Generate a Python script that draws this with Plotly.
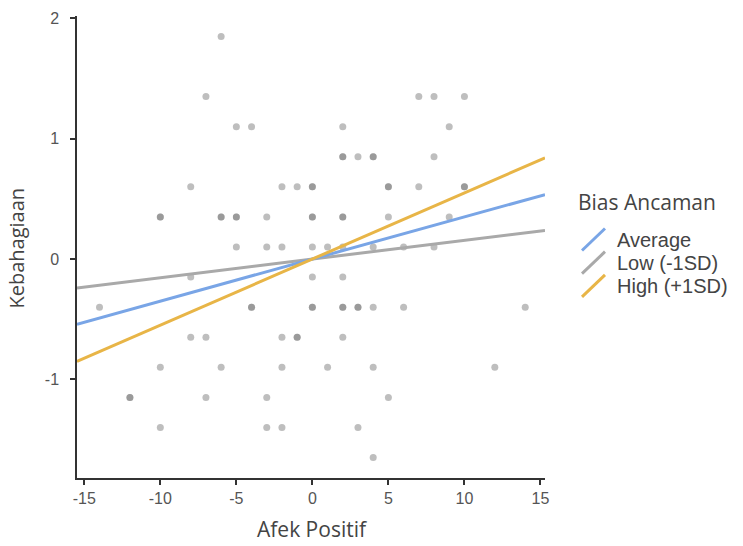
import plotly.graph_objects as go

# Scatter data (repeated points appear darker because they overlap)
afek_positif = [-6, -7, -5, -4, -8, -2, -1, 0,
                -10, -10, -6, -6, -5, -5, -3, 0,
                -5, -3, -2, 0,
                7, 8, 10, 2, 9,
                2, 2, 3, 4, 4, 8,
                0, 5, 5, 7, 10, 10,
                0, 2, 2, 5, 9,
                1, 2, 4, 6, 8,
                -8, 0, 2,
                -14, -4, -4, 0, 0, 2, 2, 3, 3, 4, 6, 14,
                -8, -7, -2, -1, -1, 2,
                -10, -6, -2, 1, 4, 12,
                -12, -12, -7, -3, 5,
                -10, -3, -2, 3,
                4]
kebahagiaan = [1.85, 1.35, 1.1, 1.1, 0.6, 0.6, 0.6, 0.6,
               0.35, 0.35, 0.35, 0.35, 0.35, 0.35, 0.35, 0.35,
               0.1, 0.1, 0.1, 0.1,
               1.35, 1.35, 1.35, 1.1, 1.1,
               0.85, 0.85, 0.85, 0.85, 0.85, 0.85,
               0.6, 0.6, 0.6, 0.6, 0.6, 0.6,
               0.35, 0.35, 0.35, 0.35, 0.35,
               0.1, 0.1, 0.1, 0.1, 0.1,
               -0.15, -0.15, -0.15,
               -0.4, -0.4, -0.4, -0.4, -0.4, -0.4, -0.4, -0.4, -0.4, -0.4, -0.4, -0.4,
               -0.65, -0.65, -0.65, -0.65, -0.65, -0.65,
               -0.9, -0.9, -0.9, -0.9, -0.9, -0.9,
               -1.15, -1.15, -1.15, -1.15, -1.15,
               -1.4, -1.4, -1.4, -1.4,
               -1.65]

# Simple slopes (lines through the origin)
groups = ["Average", "Low (-1SD)", "High (+1SD)"]
slopes = [0.035, 0.0155, 0.055]
colors = ["#79a5e6", "#a9a9a9", "#e8b547"]

x_title = "Afek Positif"
y_title = "Kebahagiaan"
legend_title = "Bias Ancaman"

x_range = [-15.48, 15.3]
y_range = [-1.82, 2.02]
x_ticks = [-15, -10, -5, 0, 5, 10, 15]
x_tick_labels = ["-15", "-10", "-5", "0", "5", "10", "15"]
y_ticks = [-1, 0, 1, 2]
y_tick_labels = ["-1", "0", "1", "2"]

fig = go.Figure()
fig.add_trace(go.Scatter(
    x=afek_positif, y=kebahagiaan, mode="markers",
    marker=dict(size=7, color="rgba(110,110,110,0.45)", line=dict(width=0)),
    showlegend=False, hoverinfo="x+y"))

draw_order = [1, 0, 2]
for i in draw_order:
    fig.add_trace(go.Scatter(
        x=x_range, y=[slopes[i] * v for v in x_range], mode="lines",
        line=dict(color=colors[i], width=3), name=groups[i], showlegend=False))

# Layout geometry (pixels)
W, H = 743, 546
ml, mr, mt, mb = 77, 198, 16, 68
pw, ph = W - ml - mr, H - mt - mb

def px_to_paper(px, py):
    return (px - ml) / pw, 1 - (py - mt) / ph

# Custom legend with diagonal line symbols
leg_x0, leg_x1 = 582, 605
leg_text_y = [240, 263.2, 286.4]
leg_rows = [(y + 10.5, y - 11.5) for y in leg_text_y]

shapes = []
annotations = []
for i, g in enumerate(groups):
    ya, yb = leg_rows[i]
    xa, ya_p = px_to_paper(leg_x0, ya)
    xb, yb_p = px_to_paper(leg_x1, yb)
    shapes.append(dict(type="line", xref="paper", yref="paper", x0=xa, y0=ya_p,
                       x1=xb, y1=yb_p, line=dict(color=colors[i], width=3)))
    tx, ty = px_to_paper(615, leg_text_y[i])
    annotations.append(dict(text=g, xref="paper", yref="paper", x=tx, y=ty,
                            xanchor="left", yanchor="middle", showarrow=False,
                            font=dict(family="Arial", size=20, color="#444")))
tx, ty = px_to_paper(576, 201.5)
annotations.append(dict(text=legend_title, xref="paper", yref="paper", x=tx, y=ty,
                        xanchor="left", yanchor="middle", showarrow=False,
                        font=dict(family="Open Sans", size=21, color="#444")))

# Axis titles
tx, ty = px_to_paper(312.5, 545)
annotations.append(dict(text=x_title, xref="paper", yref="paper", x=tx, y=ty,
                        xanchor="center", yanchor="bottom", showarrow=False,
                        font=dict(family="Open Sans", size=21, color="#444")))
tx, ty = px_to_paper(16, 247.5)
annotations.append(dict(text=y_title, xref="paper", yref="paper", x=tx, y=ty,
                        xanchor="center", yanchor="middle", showarrow=False,
                        textangle=-90,
                        font=dict(family="Open Sans", size=20, color="#444")))

fig.update_layout(
    width=W, height=H,
    margin=dict(l=ml, r=mr, t=mt, b=mb),
    plot_bgcolor="white", paper_bgcolor="white",
    shapes=shapes, annotations=annotations,
    xaxis=dict(range=x_range, tickvals=x_ticks, ticktext=x_tick_labels,
               showgrid=False, zeroline=False, automargin=False,
               showline=True, linecolor="#333", linewidth=1.5,
               ticks="outside", ticklen=5, tickwidth=1.5, tickcolor="#333",
               tickfont=dict(family="Arial", size=16, color="#555")),
    yaxis=dict(range=y_range, tickvals=y_ticks, ticktext=y_tick_labels,
               showgrid=False, zeroline=False, automargin=False,
               showline=True, linecolor="#333", linewidth=1.5,
               ticks="outside", ticklen=5, tickwidth=1.5, tickcolor="#333",
               ticklabelstandoff=8,
               tickfont=dict(family="Arial", size=16, color="#555")),
)

fig.write_html("out.html")
